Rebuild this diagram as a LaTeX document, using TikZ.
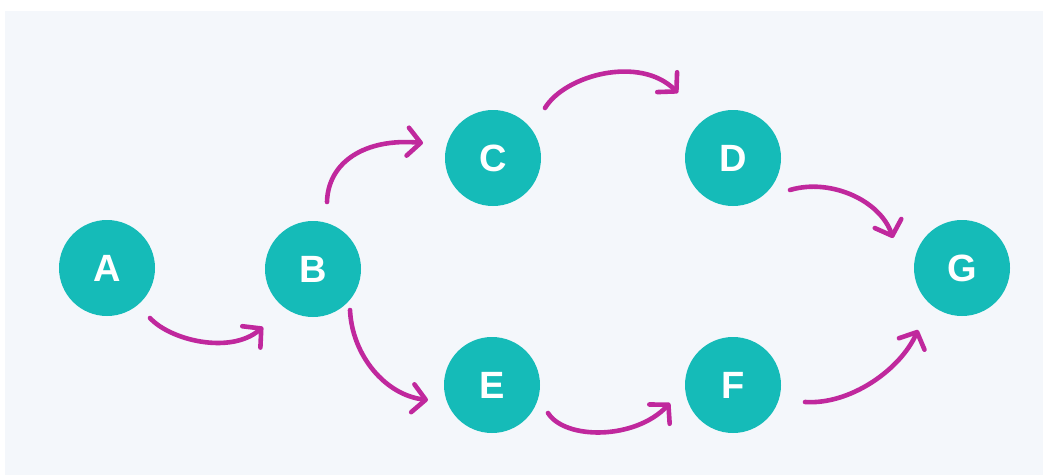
\documentclass[tikz,border=0pt]{standalone}
\usepackage{fontspec}
\setmainfont{Liberation Sans}
\usetikzlibrary{arrows.meta,calc}
\definecolor{teal}{HTML}{15BBB8}
\definecolor{mag}{HTML}{C0289D}
\definecolor{panel}{HTML}{F4F7FB}
\tikzset{
  vertex/.style={circle,fill=teal,minimum size=96pt,inner sep=0pt,
    text=white,font=\fontsize{38}{40}\selectfont\bfseries},
  arr/.style={draw=mag,line width=4.6pt,line cap=round,line join=round,
    -{Straight Barb[length=13pt,width=28pt,line cap=round,line join=round]}}
}
\begin{document}
\begin{tikzpicture}[x=1pt,y=-1pt]
\useasboundingbox (0,0) rectangle (1043,474);
\fill[white] (0,0) rectangle (1043,474);
\fill[panel] (5,11) rectangle (1050,480);
\node[vertex] (A) at (107,268) {A};
\node[vertex] (B) at (313,269) {B};
\node[vertex] (C) at (493,158) {C};
\node[vertex] (D) at (733,158) {D};
\node[vertex] (E) at (492,385) {E};
\node[vertex] (F) at (733,385) {F};
\node[vertex] (G) at (962,268) {G};
\draw[arr] ($(A)+(43,50)$) .. controls +(20,22) and +(-33,28) .. ($(B)+(-50,58)$);
\draw[arr] ($(B)+(14,-67)$) .. controls +(1,-40) and +(-58,-5) .. ($(C)+(-70,-15)$);
\draw[arr] ($(C)+(52,-50)$) .. controls +(20,-33) and +(-38,-38) .. ($(D)+(-55,-65)$);
\draw[arr] ($(D)+(57,32)$) .. controls +(40,-12) and +(-13,-38) .. ($(G)+(-69,-30)$);
\draw[arr] ($(B)+(37,41)$) .. controls +(2,45) and +(-43,-5) .. ($(E)+(-64,15)$);
\draw[arr] ($(E)+(56,28)$) .. controls +(17,27) and +(-35,37) .. ($(F)+(-63,18)$);
\draw[arr] ($(F)+(72,17)$) .. controls +(45,3) and +(-18,40) .. ($(G)+(-44,62)$);
\end{tikzpicture}
\end{document}
